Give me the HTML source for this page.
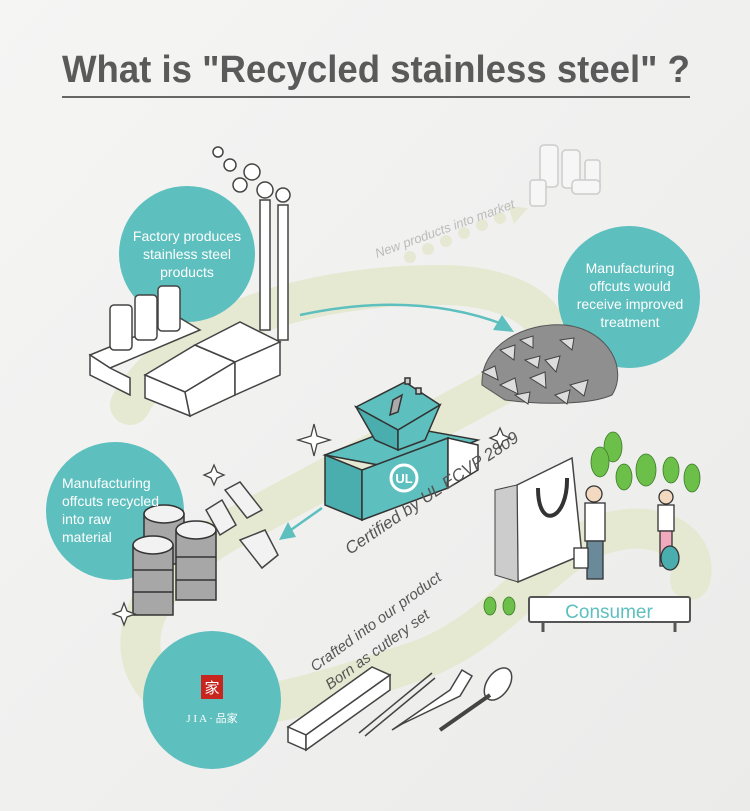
<!DOCTYPE html>
<html><head><meta charset="utf-8"><style>
html,body{margin:0;padding:0}
body{width:750px;height:811px;background:#efefee;position:relative;overflow:hidden;font-family:"Liberation Sans","Noto Sans CJK TC",sans-serif}
.t{position:absolute;color:#fff;text-align:center;font-size:14px;line-height:18px}
</style></head><body>
<svg width="750" height="811" style="position:absolute;left:0;top:0">
<defs><linearGradient id="bg" x1="0" y1="0" x2="1" y2="1"><stop offset="0" stop-color="#f5f5f4"/><stop offset="1" stop-color="#ebebea"/></linearGradient></defs>
<rect width="750" height="811" fill="url(#bg)"/>
<text x="62" y="82" textLength="628" lengthAdjust="spacingAndGlyphs" font-family="Liberation Sans" font-weight="bold" font-size="38" fill="#5a5a5a">What is "Recycled stainless steel" ?</text>
<line x1="62" y1="97" x2="690" y2="97" stroke="#666" stroke-width="2"/>
<path d="M130,405 C170,330 300,285 440,285 C540,285 580,340 520,375 L230,530 C140,580 120,650 160,690 C200,730 300,700 420,660 C500,630 540,560 600,535 C660,515 700,545 690,580" fill="none" stroke="#e6e9d1" stroke-width="40" stroke-linecap="round" stroke-linejoin="round"/>
<g fill="#e6e8d4"><circle cx="410" cy="257" r="6"/><circle cx="428" cy="249" r="6"/><circle cx="446" cy="241" r="6"/><circle cx="464" cy="233" r="6"/><circle cx="482" cy="225" r="6"/><circle cx="500" cy="218" r="6"/></g>
<polygon points="528,208 508,206 514,224" fill="#e6e8d4"/>
<text x="377" y="258" font-size="13" fill="#bbb" font-style="italic" transform="rotate(-20 377 258)">New products into market</text>
<g fill="#f6f6f6" stroke="#ccc" stroke-width="1.5">
<rect x="540" y="145" width="18" height="42" rx="4"/><rect x="562" y="150" width="18" height="38" rx="4"/><rect x="585" y="160" width="15" height="30" rx="3"/>
<rect x="530" y="180" width="16" height="26" rx="3"/><rect x="572" y="180" width="28" height="14" rx="4"/>
</g>
<circle cx="187" cy="254" r="68" fill="#5dbfbe"/>
<circle cx="629" cy="297" r="71" fill="#5dbfbe"/>
<circle cx="115" cy="511" r="69" fill="#5dbfbe"/>
<circle cx="212" cy="700" r="69" fill="#5dbfbe"/>
<g stroke="#444" stroke-width="1.5" fill="#fff">
<rect x="260" y="200" width="10" height="130"/><rect x="278" y="205" width="10" height="135"/>
<circle cx="240" cy="185" r="7"/><circle cx="252" cy="172" r="8"/><circle cx="230" cy="165" r="6"/><circle cx="265" cy="190" r="8"/><circle cx="283" cy="195" r="7"/><circle cx="218" cy="152" r="5"/>
<polygon points="90,355 180,318 200,330 110,368"/>
<polygon points="90,355 110,368 130,378 130,395 90,375"/>
<rect x="110" y="305" width="22" height="45" rx="4"/><rect x="135" y="295" width="22" height="45" rx="4"/><rect x="158" y="286" width="22" height="45" rx="4"/>
<polygon points="145,375 195,345 235,362 185,392"/>
<polygon points="145,375 185,392 190,416 145,398" />
<polygon points="185,392 235,362 235,395 190,416"/>
<polygon points="195,345 240,322 280,342 235,362"/>
<polygon points="235,362 280,342 280,375 235,395"/>
</g>
<path d="M300,315 C370,300 440,300 505,325" fill="none" stroke="#5dbfbe" stroke-width="2.5"/>
<polygon points="514,332 493,330 502,315" fill="#5dbfbe"/>
<path d="M482,385 C480,345 525,322 565,325 C610,330 628,370 612,395 C590,405 540,405 505,400 Z" fill="#8f8f8f" stroke="#555"/>
<g fill="#ddd" stroke="#444" stroke-width="1">
<polygon points="482,372 495,366 498,380"/><polygon points="500,350 515,345 514,360"/><polygon points="520,340 533,336 533,348"/><polygon points="545,360 560,356 556,372"/>
<polygon points="500,385 515,378 518,394"/><polygon points="570,385 588,380 584,396"/><polygon points="530,378 545,372 546,388"/>
<polygon points="555,395 570,390 567,404"/><polygon points="525,360 540,356 538,368"/><polygon points="560,340 574,338 572,350"/><polygon points="515,395 530,392 528,404"/>
</g>
<g stroke="#333" stroke-width="1.5">
<polygon points="325,455 400,426 478,440 405,470" fill="#5dbfbe"/>
<polygon points="325,455 362,470 362,520 325,505" fill="#4aaeae"/>
<polygon points="362,470 448,438 448,488 362,520" fill="#5dbfbe"/>
<polygon points="448,438 478,445 478,470 448,488" fill="#fff"/>
<polygon points="356,407 405,382 440,405 398,430" fill="#5dbfbe"/>
<polygon points="356,407 398,430 398,450 375,440" fill="#4aaeae"/>
<polygon points="398,430 440,405 425,440 398,450" fill="#5dbfbe"/>
<polygon points="393,400 402,395 398,412 390,415" fill="#aaa"/>
<rect x="405" y="378" width="5" height="6" fill="#ccc"/><rect x="416" y="388" width="5" height="6" fill="#ccc"/>
</g>
<circle cx="404" cy="478" r="13" fill="none" stroke="#fff" stroke-width="3"/>
<text x="404" y="483" text-anchor="middle" fill="#fff" font-weight="bold" font-size="13">UL</text>
<text x="350" y="555" font-size="17" fill="#555" font-style="italic" transform="rotate(-34 350 555)">Certified by UL ECVP 2809</text>
<path d="M322,508 C308,518 298,525 288,532" fill="none" stroke="#5dbfbe" stroke-width="2.5"/>
<polygon points="279,540 288,522 296,537" fill="#5dbfbe"/>
<g stroke="#333" stroke-width="1.5" fill="#a7a7a7">
<rect x="144" y="514" width="40" height="50"/><ellipse cx="164" cy="514" rx="20" ry="9" fill="#f2f2f2"/>
<rect x="176" y="530" width="40" height="70"/><ellipse cx="196" cy="530" rx="20" ry="9" fill="#f2f2f2"/>
<rect x="133" y="545" width="40" height="70"/><ellipse cx="153" cy="545" rx="20" ry="9" fill="#f2f2f2"/>
<line x1="133" y1="570" x2="173" y2="570"/><line x1="133" y1="592" x2="173" y2="592"/><line x1="176" y1="557" x2="216" y2="557"/><line x1="176" y1="580" x2="216" y2="580"/>
</g>
<g stroke="#444" stroke-width="1.5" fill="#f2f2f2">
<polygon points="225,490 240,482 262,510 247,518"/><polygon points="206,510 222,500 236,525 220,535"/><polygon points="240,540 265,530 278,555 262,568"/>
</g>
<g fill="#fff" stroke="#444" stroke-width="1.3">
<path d="M314,424 l3,12 13,4 -13,4 -3,12 -3,-12 -13,-4 13,-4z"/>
<path d="M500,428 l3,7 7,3 -7,3 -3,7 -3,-7 -7,-3 7,-3z"/>
<path d="M214,465 l3,7 7,3 -7,3 -3,7 -3,-7 -7,-3 7,-3z"/>
<path d="M124,603 l3,8 8,3 -8,3 -3,8 -3,-8 -8,-3 8,-3z"/>
</g>
<polygon points="517,485 572,458 582,555 518,582" fill="#fff" stroke="#444" stroke-width="1.5"/>
<polygon points="495,490 517,485 518,582 495,575" fill="#ccc" stroke="#444"/>
<path d="M538,488 C538,532 568,520 567,478" fill="none" stroke="#333" stroke-width="4"/>
<g fill="#6cc04a" stroke="#3c7a2a" stroke-width="0.8"><ellipse cx="613" cy="447" rx="9" ry="15"/><ellipse cx="600" cy="462" rx="9" ry="15"/><ellipse cx="624" cy="477" rx="8" ry="13"/><ellipse cx="646" cy="470" rx="10" ry="16"/><ellipse cx="671" cy="470" rx="8" ry="13"/><ellipse cx="692" cy="478" rx="8" ry="14"/><ellipse cx="490" cy="606" rx="6" ry="9"/><ellipse cx="509" cy="606" rx="6" ry="9"/></g>
<g stroke="#333" stroke-width="1.3">
<circle cx="594" cy="494" r="8" fill="#f3d9c0"/><rect x="585" y="503" width="20" height="38" fill="#fff"/><rect x="587" y="541" width="16" height="38" fill="#6a8a9a"/>
<rect x="574" y="548" width="14" height="20" fill="#fff"/>
<circle cx="666" cy="497" r="7" fill="#f3d9c0"/><rect x="658" y="505" width="16" height="26" fill="#fff"/><rect x="660" y="531" width="12" height="35" fill="#f1a9bd"/>
<ellipse cx="670" cy="558" rx="9" ry="12" fill="#4aaeae"/>
</g>
<rect x="529" y="597" width="161" height="25" rx="2" fill="#fff" stroke="#555" stroke-width="2"/>
<line x1="543" y1="622" x2="543" y2="632" stroke="#555" stroke-width="3"/><line x1="675" y1="622" x2="675" y2="632" stroke="#555" stroke-width="3"/>
<text x="609" y="618" text-anchor="middle" font-size="19" fill="#5dbfbe">Consumer</text>
<text x="315" y="672" font-size="15" fill="#555" font-style="italic" transform="rotate(-36 315 672)">Crafted into our product</text>
<text x="330" y="690" font-size="15" fill="#555" font-style="italic" transform="rotate(-36 330 690)">Born as cutlery set</text>
<g stroke="#444" stroke-width="1.5" fill="#fff">
<polygon points="288,727 372,667 390,675 306,735"/><polygon points="288,727 306,735 306,750 288,742"/><polygon points="306,735 390,675 390,690 306,750"/>
<line x1="359" y1="733" x2="432" y2="673"/><line x1="365" y1="736" x2="435" y2="678"/>
<path d="M392,730 L450,690 l12,-20 10,6 -12,20 -58,28z"/>
<ellipse cx="498" cy="684" rx="11" ry="18" transform="rotate(35 498 684)"/><path d="M440,730 L490,695" stroke-width="4"/>
</g>
<rect x="201" y="675" width="22" height="24" fill="#c8251f"/>
<text x="212" y="693" text-anchor="middle" font-size="15" fill="#fff" font-family="Noto Sans CJK TC">家</text>
<text x="212" y="722" text-anchor="middle" font-size="11" fill="#fff" font-family="Liberation Serif, Noto Sans CJK TC">J I A · 品家</text>
</svg>
<div class="t" style="left:120px;top:227px;width:134px">Factory produces stainless steel products</div>
<div class="t" style="left:565px;top:259px;width:130px">Manufacturing offcuts would receive improved treatment</div>
<div class="t" style="left:62px;top:474px;width:120px;text-align:left">Manufacturing<br>offcuts recycled<br>into raw<br>material</div>
</body></html>
